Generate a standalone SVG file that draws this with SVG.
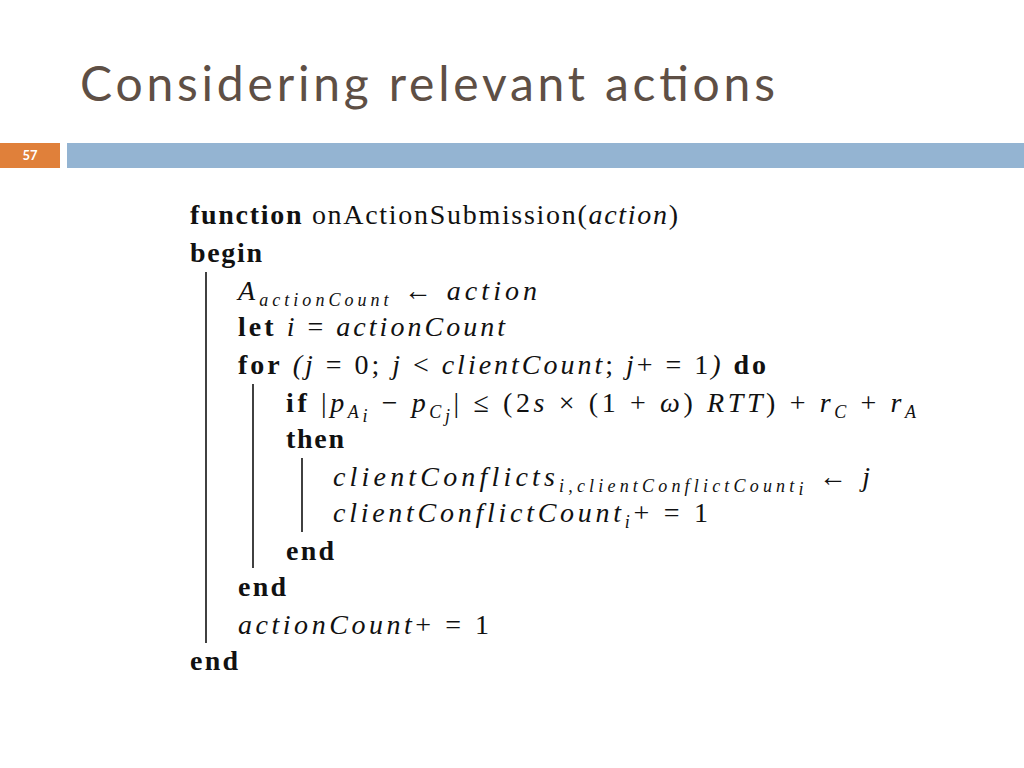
<svg xmlns="http://www.w3.org/2000/svg" width="1024" height="768" viewBox="0 0 1024 768">
<style>
.t{font-family:"Liberation Serif",serif;font-size:28px;fill:#111}
.b{font-weight:bold}
.i{font-style:italic}
.s{font-size:18px;font-style:italic}
.ln{stroke:#111;stroke-width:1.6}
</style>
<rect width="1024" height="768" fill="#fff"/>
<text x="80" y="101" font-family="Lato,'Open Sans',sans-serif" font-size="48" fill="#5e4f45" textLength="695" lengthAdjust="spacing">Considering relevant actions</text>
<rect x="0" y="143" width="60" height="25" fill="#e0803a"/>
<text x="30" y="160" text-anchor="middle" font-family="Lato,sans-serif" font-size="13" font-weight="bold" fill="#fff">57</text>
<rect x="67" y="143" width="957" height="25" fill="#94b4d2"/>
<g id="algorithm">
<text class="t" x="190" y="224" textLength="488" lengthAdjust="spacing"><tspan class="b">function</tspan> onActionSubmission(<tspan class="i">action</tspan>)</text>
<text class="t b" x="190" y="262" textLength="72" lengthAdjust="spacing">begin</text>
<text class="t" x="238" y="300" textLength="299" lengthAdjust="spacing"><tspan class="i">A</tspan><tspan class="s" dy="6">actionCount</tspan><tspan dy="-6"> ← </tspan><tspan class="i">action</tspan></text>
<text class="t" x="238" y="336" textLength="267" lengthAdjust="spacing"><tspan class="b">let</tspan> <tspan class="i">i</tspan> = <tspan class="i">actionCount</tspan></text>
<text class="t" x="238" y="374" textLength="528" lengthAdjust="spacing"><tspan class="b">for</tspan> <tspan class="i">(j</tspan> = 0; <tspan class="i">j</tspan> &lt; <tspan class="i">clientCount</tspan>; <tspan class="i">j</tspan>+ = 1<tspan class="i">)</tspan> <tspan class="b">do</tspan></text>
<text class="t" x="286" y="412" textLength="630" lengthAdjust="spacing"><tspan class="b">if</tspan> |<tspan class="i">p</tspan><tspan class="s" dy="6">A</tspan><tspan class="s" font-size="12" dy="4">i</tspan><tspan dy="-10"> − </tspan><tspan class="i">p</tspan><tspan class="s" dy="6">C</tspan><tspan class="s" font-size="12" dy="4">j</tspan><tspan dy="-10">| ≤ (2</tspan><tspan class="i">s</tspan> × (1 + <tspan class="i">ω</tspan>) <tspan class="i">RTT</tspan>) + <tspan class="i">r</tspan><tspan class="s" dy="6">C</tspan><tspan dy="-6"> + </tspan><tspan class="i">r</tspan><tspan class="s" dy="6">A</tspan></text>
<text class="t b" x="286" y="448" textLength="58" lengthAdjust="spacing">then</text>
<text class="t" x="333" y="486" textLength="537" lengthAdjust="spacing"><tspan class="i">clientConflicts</tspan><tspan class="s" dy="6">i,clientConflictCount</tspan><tspan class="s" font-size="12" dy="3">i</tspan><tspan dy="-9"> ← </tspan><tspan class="i">j</tspan></text>
<text class="t" x="333" y="522" textLength="375" lengthAdjust="spacing"><tspan class="i">clientConflictCount</tspan><tspan class="s" dy="6">i</tspan><tspan dy="-6">+ = 1</tspan></text>
<text class="t b" x="286" y="560" textLength="48" lengthAdjust="spacing">end</text>
<text class="t b" x="238" y="596" textLength="48" lengthAdjust="spacing">end</text>
<text class="t" x="238" y="634" textLength="251" lengthAdjust="spacing"><tspan class="i">actionCount</tspan>+ = 1</text>
<text class="t b" x="190" y="670" textLength="48" lengthAdjust="spacing">end</text>
<line class="ln" x1="206" y1="272" x2="206" y2="643"/>
<line class="ln" x1="253" y1="384" x2="253" y2="568"/>
<line class="ln" x1="302" y1="458" x2="302" y2="532"/>
</g>
</svg>
